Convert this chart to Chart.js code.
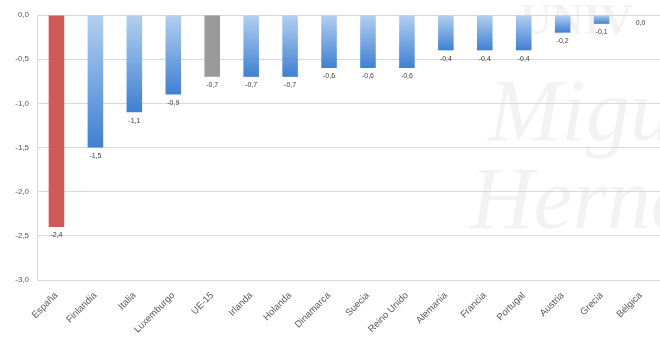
<!DOCTYPE html>
<html>
<head>
<meta charset="utf-8">
<script src="https://cdn.jsdelivr.net/npm/chart.js@4"></script>
<style>
  html, body { margin: 0; padding: 0; background: #fff; }
  #wrap { width: 660px; height: 340px; }
</style>
</head>
<body>
<div id="wrap"><canvas id="chart"></canvas></div>
<script>
var paises = ['España', 'Finlandia', 'Italia', 'Luxemburgo', 'UE-15', 'Irlanda', 'Holanda', 'Dinamarca',
  'Suecia', 'Reino Unido', 'Alemania', 'Francia', 'Portugal', 'Austria', 'Grecia', 'Bélgica'];
var variacion = [-2.4, -1.5, -1.1, -0.9, -0.7, -0.7, -0.7, -0.6, -0.6, -0.6, -0.4, -0.4, -0.4, -0.2, -0.1, 0.0];

function coma(v) {
  return v.toFixed(1).replace('.', ',');
}

// faint watermark behind the plot
var marcaAgua = {
  id: 'marcaAgua',
  beforeDraw: function(chart) {
    var ctx = chart.ctx;
    ctx.save();
    ctx.fillStyle = 'rgba(0,0,0,0.05)';
    ctx.font = 'italic 88px "Liberation Serif"';
    ctx.textBaseline = 'alphabetic';
    ctx.fillText('Miguel', 488, 140);
    ctx.fillText('Hernández', 470, 228);
    ctx.font = 'bold 44px "Liberation Serif"';
    ctx.fillText('UNIV', 520, 34);
    ctx.restore();
  }
};

// value labels under each bar end
var etiquetas = {
  id: 'etiquetas',
  afterDatasetsDraw: function(chart) {
    var ctx = chart.ctx;
    var meta = chart.getDatasetMeta(0);
    ctx.save();
    ctx.fillStyle = '#404040';
    ctx.font = '7px "Liberation Sans"';
    ctx.textAlign = 'center';
    ctx.textBaseline = 'top';
    meta.data.forEach(function(bar, i) {
      ctx.fillText(coma(variacion[i]), bar.x, Math.max(bar.y, bar.base) + 5);
    });
    ctx.restore();
  }
};

function colorBarra(c) {
  var i = c.dataIndex;
  if (paises[i] === 'España') return '#cf5a55';
  if (paises[i] === 'UE-15') return '#9a9a9a';
  var chart = c.chart;
  if (!chart.chartArea) return '#5b95dc';
  var y = chart.scales.y;
  var y0 = y.getPixelForValue(0);
  var y1 = y.getPixelForValue(variacion[i]);
  if (Math.abs(y1 - y0) < 1) y1 = y0 + 1;
  var g = chart.ctx.createLinearGradient(0, y0, 0, y1);
  g.addColorStop(0, '#b3d0f0');
  g.addColorStop(1, '#3f80d2');
  return g;
}

new Chart(document.getElementById('chart').getContext('2d'), {
  type: 'bar',
  data: {
    labels: paises,
    datasets: [{
      data: variacion,
      backgroundColor: colorBarra,
      borderWidth: 0,
      barPercentage: 0.8,
      categoryPercentage: 0.5
    }]
  },
  options: {
    responsive: true,
    maintainAspectRatio: false,
    animation: false,
    layout: { padding: { top: 15, right: 0, left: 2, bottom: 0 } },
    plugins: {
      legend: { display: false },
      tooltip: { enabled: false }
    },
    scales: {
      x: {
        grid: { display: false, drawTicks: false },
        border: { display: false },
        afterFit: function(s) { s.height = 60; },
        ticks: {
          minRotation: 45,
          maxRotation: 45,
          padding: 10,
          color: '#595959',
          font: { family: 'Liberation Sans', size: 9.5 }
        }
      },
      y: {
        min: -3,
        max: 0,
        afterFit: function(s) { s.width = 35; },
        grid: { color: '#d9d9d9', drawTicks: false },
        border: { color: '#d9d9d9' },
        ticks: {
          stepSize: 0.5,
          padding: 8,
          color: '#595959',
          font: { family: 'Liberation Sans', size: 8 },
          callback: function(v) { return coma(v); }
        }
      }
    }
  },
  plugins: [marcaAgua, etiquetas]
});
</script>
</body>
</html>
